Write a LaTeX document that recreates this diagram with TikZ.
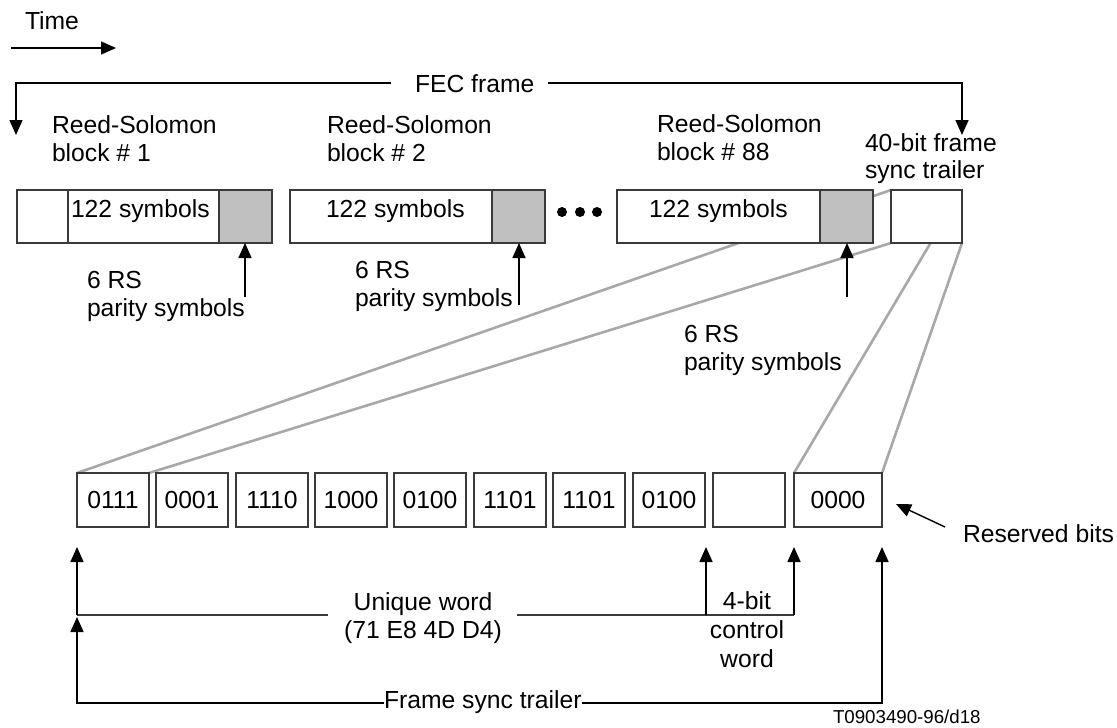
\documentclass[tikz,border=0pt]{standalone}
\usepackage{fontspec}
\setmainfont{Liberation Sans}
\usetikzlibrary{arrows.meta}
\definecolor{ln}{HTML}{3A3A3A}
\definecolor{fan}{HTML}{A8A8A8}
\definecolor{par}{HTML}{C0C0C0}
\begin{document}
\begin{tikzpicture}[x=1pt,y=-1pt,
  box/.style={draw=ln, line width=1.6pt, fill=white, inner sep=0pt, outer sep=0pt, anchor=north west},
  pbox/.style={box, fill=par},
  txt/.style={inner sep=0pt, outer sep=0pt, font=\fontsize{24.7}{28}\selectfont, text=black},
  lbl/.style={txt, anchor=base west},
  clbl/.style={txt, anchor=base},
  arr/.style={-{Triangle[length=15pt,width=13pt]}, line width=1.6pt, draw=black},
  conn/.style={line width=1.6pt, draw=ln},
  fanl/.style={line width=2.6pt, draw=fan},
]
\useasboundingbox (0,0) rectangle (1117,728);

% Time
\node[lbl] (time) at (25,29) {Time};
\coordinate (timeA) at (11,48);
\coordinate (timeB) at (116,48);
\draw[arr] (timeA) -- (timeB);

% FEC frame
\node[lbl] (fec) at (415,92) {FEC frame};
\coordinate (fecLs) at (391,83);
\coordinate (fecRs) at (548,83);
\coordinate (fecL) at (16,135);
\coordinate (fecR) at (962,135);
\draw[arr] (fecLs) -| (fecL);
\draw[arr] (fecRs) -| (fecR);

% Labels above blocks
\node[lbl] (rs1a) at (52,133) {Reed-Solomon};
\node[lbl] (rs1b) at (52,161) {block \# 1};
\node[lbl] (rs2a) at (327,133) {Reed-Solomon};
\node[lbl] (rs2b) at (327,161) {block \# 2};
\node[lbl] (rs3a) at (657,132) {Reed-Solomon};
\node[lbl] (rs3b) at (657,160) {block \# 88};
\node[lbl] (fsa) at (865,151) {40-bit frame};
\node[lbl] (fsb) at (865,178) {sync trailer};

% bottom boxes (defined first as coordinates for fan lines)
\coordinate (f1) at (77,473);
\coordinate (f2) at (149,473);
\coordinate (f3) at (794,473);
\coordinate (f4) at (882,473);
\coordinate (t1) at (891,190);
\coordinate (t2) at (891,243);
\coordinate (t3) at (962,190);
\coordinate (t4) at (962,243);
\draw[fanl] (f1) -- (t1);
\draw[fanl] (f2) -- (t2);
\draw[fanl] (f3) -- (t3);
\draw[fanl] (f4) -- (t4);

% Top blocks
\node[box, minimum width=51pt, minimum height=53pt] (b1a) at (17,190) {};
\node[box, minimum width=151pt, minimum height=53pt] (b1b) at (68,190) {};
\node[pbox, minimum width=53pt, minimum height=53pt] (b1p) at (219,190) {};
\node[box, minimum width=202pt, minimum height=53pt] (b2b) at (290,190) {};
\node[pbox, minimum width=53pt, minimum height=53pt] (b2p) at (492,190) {};
\node[box, minimum width=203pt, minimum height=53pt] (b3b) at (617,190) {};
\node[pbox, minimum width=53pt, minimum height=53pt] (b3p) at (820,190) {};
\node[box, minimum width=71pt, minimum height=53pt] (tr) at (891,190) {};

\node[lbl] (s1) at (71,217) {122 symbols};
\node[lbl] (s2) at (326,217) {122 symbols};
\node[lbl] (s3) at (649,217) {122 symbols};

% dots
\foreach \i/\xx in {1/562,2/580,3/597}
  \fill (\xx,212) circle (5pt);

% parity arrows
\coordinate (p1) at (245,297);
\coordinate (p2) at (519,305);
\coordinate (p3) at (847,297);
\draw[arr] (p1) -- (p1 |- b1p.south);
\draw[arr] (p2) -- (p2 |- b2p.south);
\draw[arr] (p3) -- (p3 |- b3p.south);

\node[lbl] (r1a) at (87,288) {6 RS};
\node[lbl] (r1b) at (87,316) {parity symbols};
\node[lbl] (r2a) at (355,278) {6 RS};
\node[lbl] (r2b) at (355,306) {parity symbols};
\node[lbl] (r3a) at (684,342) {6 RS};
\node[lbl] (r3b) at (684,370) {parity symbols};

% bottom bit boxes
\foreach \n/\xx/\t in {1/77/0111,2/156/0001,3/236/1110,4/315/1000,5/394/0100,6/474/1101,7/553/1101,8/633/0100,9/713/{}}
  \node[box, txt, minimum width=72pt, minimum height=54pt, inner sep=0pt, draw=ln, fill=white, anchor=north west] (bx\n) at (\xx,473) {\t};
\node[box, txt, minimum width=88pt, minimum height=54pt, draw=ln, fill=white, anchor=north west] (bx10) at (794,473) {0000};

% reserved bits
\node[lbl] (res) at (963,542) {Reserved bits};
\coordinate (resA) at (945,527);
\coordinate (resB) at (896,504);
\draw[arr, line width=1.4pt] (resA) -- (resB);

% unique word
\node[clbl] (uw1) at (423,610) {Unique word};
\node[clbl] (uw2) at (423,638) {(71 E8 4D D4)};
\coordinate (uwL) at (77,615);
\coordinate (uwLe) at (328,615);
\coordinate (uwRs) at (517,615);
\coordinate (uwR) at (794,615);
\coordinate (cwL) at (706,615);
\draw[conn] (uwL) -- (uwLe);
\draw[conn] (uwRs) -- (uwR);
\draw[arr] (uwL) -- (77,547);
\draw[arr] (cwL) -- (706,547);
\draw[arr] (uwR) -- (794,547);

\node[clbl] (cw1) at (747,609) {4-bit};
\node[clbl] (cw2) at (747,638) {control};
\node[clbl] (cw3) at (747,667) {word};

% frame sync trailer
\node[lbl] (fst) at (384,708) {Frame sync trailer};
\coordinate (fsL) at (77,703);
\coordinate (fsR) at (882,703);
\draw[arr] (fst.west |- fsL) -- (fsL) -- (77,617);
\draw[arr] (fst.east |- fsR) -- (fsR) -- (882,547);

\node[txt, font=\fontsize{18.7}{22}\selectfont, anchor=base west] (ref) at (833,723) {T0903490-96/d18};
\end{tikzpicture}
\end{document}
